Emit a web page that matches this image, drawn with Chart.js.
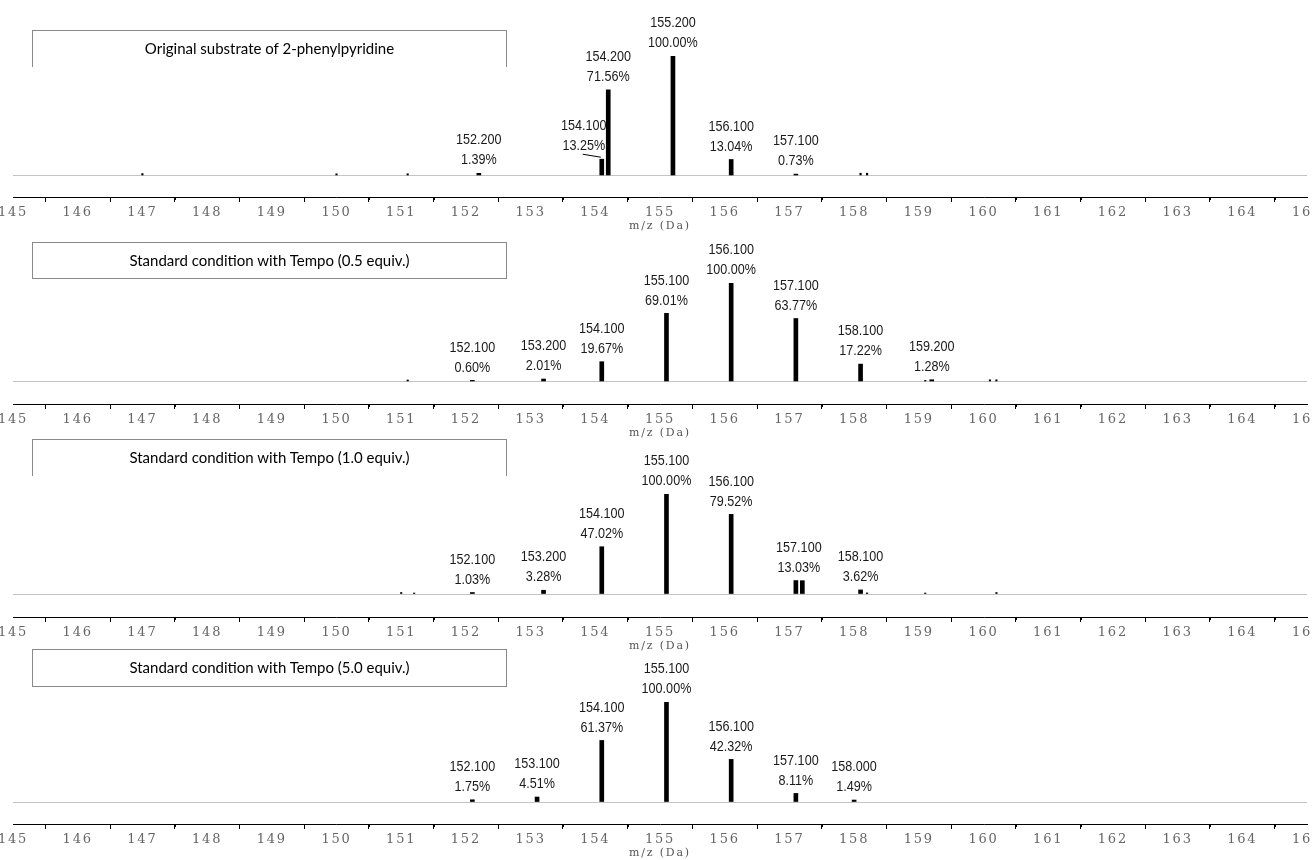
<!DOCTYPE html>
<html>
<head>
<meta charset="utf-8">
<title>Mass spectra</title>
<script src="https://cdn.jsdelivr.net/npm/chart.js@4.4.1/dist/chart.umd.min.js"></script>
<style>
  html, body { margin:0; padding:0; background:#fff; width:1312px; height:860px; overflow:hidden; position:relative; }
  canvas { position:absolute; left:-40px; }
  .tag { position:absolute; left:32px; width:475px; height:37px; box-sizing:border-box; border:1px solid #8a8a8a;
         font:15px Lato, "Open Sans", sans-serif; color:#000; text-align:center; line-height:35px; }
  .open { border-bottom:none; }
</style>
</head>
<body>
<canvas id="c1" width="1392" height="237" style="top:0px"></canvas>
<canvas id="c2" width="1392" height="207" style="top:237px"></canvas>
<canvas id="c3" width="1392" height="213" style="top:444px"></canvas>
<canvas id="c4" width="1392" height="213" style="top:651px"></canvas>

<div class="tag open" id="t1" style="top:30px"></div>
<div class="tag" id="t2" style="top:242px"></div>
<div class="tag open" id="t3" style="top:439px"></div>
<div class="tag" id="t4" style="top:649px;height:38px"></div>

<script>
// ---- data (m/z, relative intensity %) ----
const titles = [
  'Original substrate of 2-phenylpyridine',
  'Standard condition with Tempo (0.5 equiv.)',
  'Standard condition with Tempo (1.0 equiv.)',
  'Standard condition with Tempo (5.0 equiv.)'
];

// original substrate
const mz1 = [152.2, 154.1, 154.2, 155.2, 156.1, 157.1];
const pct1 = [1.39, 13.25, 71.56, 100, 13.04, 0.73];
const tagged1 = [152.2, 154.1, 154.2, 155.2, 156.1, 157.1];
const minorMz1 = [147.0, 150.0, 151.1, 158.1, 158.2];
const minorPct1 = [1.2, 1.0, 1.0, 1.5, 1.5];

// Tempo 0.5 equiv.
const mz2 = [152.1, 153.2, 154.1, 155.1, 156.1, 157.1, 158.1, 159.2];
const pct2 = [0.60, 2.01, 19.67, 69.01, 100, 63.77, 17.22, 1.28];
const tagged2 = [152.1, 153.2, 154.1, 155.1, 156.1, 157.1, 158.1, 159.2];
const minorMz2 = [151.1, 159.1, 160.1, 160.2];
const minorPct2 = [1.0, 0.6, 1.2, 1.2];

// Tempo 1.0 equiv.
const mz3 = [152.1, 153.2, 154.1, 155.1, 156.1, 157.1, 157.2, 158.1];
const pct3 = [1.03, 3.28, 47.02, 100, 79.52, 13.03, 12.9, 3.62];
const tagged3 = [152.1, 153.2, 154.1, 155.1, 156.1, 157.1, 158.1];
const minorMz3 = [151.0, 151.2, 158.2, 159.1, 160.2];
const minorPct3 = [1.0, 0.5, 0.6, 0.5, 1.0];

// Tempo 5.0 equiv.
const mz4 = [152.1, 153.1, 154.1, 155.1, 156.1, 157.1, 158.0];
const pct4 = [1.75, 4.51, 61.37, 100, 42.32, 8.11, 1.49];
const tagged4 = [152.1, 153.1, 154.1, 155.1, 156.1, 157.1, 158.0];
const minorMz4 = [];
const minorPct4 = [];

const xMin = 145, xMax = 165;

// ---- layout per panel (pixels / axis ranges) ----
const panels = [
  { id:'c1', mz:mz1, pct:pct1, tags:tagged1, mmz:minorMz1, mpct:minorPct1, padTop:56, yMin:-18.5, nudge:{ '154.1': -18 } },
  { id:'c2', mz:mz2, pct:pct2, tags:tagged2, mmz:minorMz2, mpct:minorPct2, padTop:46, yMin:-23.5, nudge:{} },
  { id:'c3', mz:mz3, pct:pct3, tags:tagged3, mmz:minorMz3, mpct:minorPct3, padTop:50, yMin:-23.6, nudge:{ '157.1': 3 } },
  { id:'c4', mz:mz4, pct:pct4, tags:tagged4, mmz:minorMz4, mpct:minorPct4, padTop:51, yMin:-22.6, nudge:{} }
];

titles.forEach((t, i) => { document.getElementById('t' + (i + 1)).textContent = t; });

const spectrumPlugin = {
  id: 'spectrum',
  beforeDraw(chart) {
    // the axis face in the source is wide, spread the tick text a bit
    chart.ctx.letterSpacing = '1.8px';
  },
  beforeDatasetsDraw(chart) {
    const { ctx, chartArea, scales: { x, y } } = chart;
    const y0 = Math.round(y.getPixelForValue(0)) + 0.5;
    ctx.save();
    ctx.strokeStyle = '#c4c4c4';
    ctx.lineWidth = 1.2;
    ctx.beginPath();
    ctx.moveTo(chartArea.left, y0);
    ctx.lineTo(chartArea.right, y0);
    ctx.stroke();
    // short ticks at the half units
    ctx.strokeStyle = '#000';
    ctx.lineWidth = 1;
    ctx.beginPath();
    for (let v = x.min + 0.5; v < x.max; v += 1) {
      const px = Math.round(x.getPixelForValue(v)) + 0.5;
      ctx.moveTo(px, chartArea.bottom);
      ctx.lineTo(px, chartArea.bottom + 3);
    }
    ctx.stroke();
    ctx.restore();
  },
  afterDatasetsDraw(chart, args, opts) {
    const { ctx, scales: { x, y } } = chart;
    const pts = chart.data.datasets[0].data;
    ctx.save();
    ctx.letterSpacing = '0px';
    ctx.fillStyle = '#1a1a1a';
    ctx.font = '15px "Liberation Sans", Arial, sans-serif';
    ctx.textAlign = 'center';
    ctx.textBaseline = 'middle';
    pts.forEach(p => {
      if (!opts.tags.includes(p.x)) return;
      const bx = x.getPixelForValue(p.x);
      const top = y.getPixelForValue(p.y);
      const dx = opts.nudge[p.x.toFixed(1)] || 0;
      const cx = bx + dx;
      [[p.x.toFixed(3), top - 33], [p.y.toFixed(2) + '%', top - 13]].forEach(([txt, ty]) => {
        ctx.save();
        ctx.translate(cx, ty);
        ctx.scale(0.84, 1);   // condensed face
        ctx.fillText(txt, 0, 0);
        ctx.restore();
      });
      if (Math.abs(dx) > 10) {
        ctx.strokeStyle = '#000';
        ctx.lineWidth = 1;
        ctx.beginPath();
        ctx.moveTo(bx - 19, top - 5);
        ctx.lineTo(bx - 1, top - 2);
        ctx.stroke();
      }
    });
    ctx.restore();
  }
};

panels.forEach(p => {
  new Chart(document.getElementById(p.id), {
    type: 'bar',
    data: {
      datasets: [
        { data: p.mz.map((m, i) => ({ x: m, y: p.pct[i] })), backgroundColor: '#000', barThickness: 4 },
        { data: p.mmz.map((m, i) => ({ x: m, y: p.mpct[i] })), backgroundColor: '#000', barThickness: 1.5 }
      ]
    },
    options: {
      responsive: false,
      animation: false,
      grouped: false,
      layout: { padding: { left: 53, right: 45, top: p.padTop, bottom: 0 } },
      plugins: {
        legend: { display: false },
        tooltip: { enabled: false },
        spectrum: { tags: p.tags, nudge: p.nudge }
      },
      scales: {
        x: {
          type: 'linear',
          min: xMin,
          max: xMax,
          offset: false,
          ticks: { stepSize: 1, autoSkip: false, maxRotation: 0, padding: 3, color: '#666',
                   font: { family: '"DejaVu Serif", serif', size: 13 } },
          grid: { drawOnChartArea: false, drawTicks: true, tickLength: 5, tickColor: '#000' },
          border: { display: true, color: '#000', width: 1 },
          title: { display: true, text: 'm/z (Da)', color: '#555', padding: { top: 0, bottom: 4 },
                   font: { family: '"DejaVu Serif", serif', size: 11 } },
          afterFit: s => { s.height = 40; }
        },
        y: { display: false, min: p.yMin, max: 100 }
      }
    },
    plugins: [spectrumPlugin]
  });
});
</script>
</body>
</html>
